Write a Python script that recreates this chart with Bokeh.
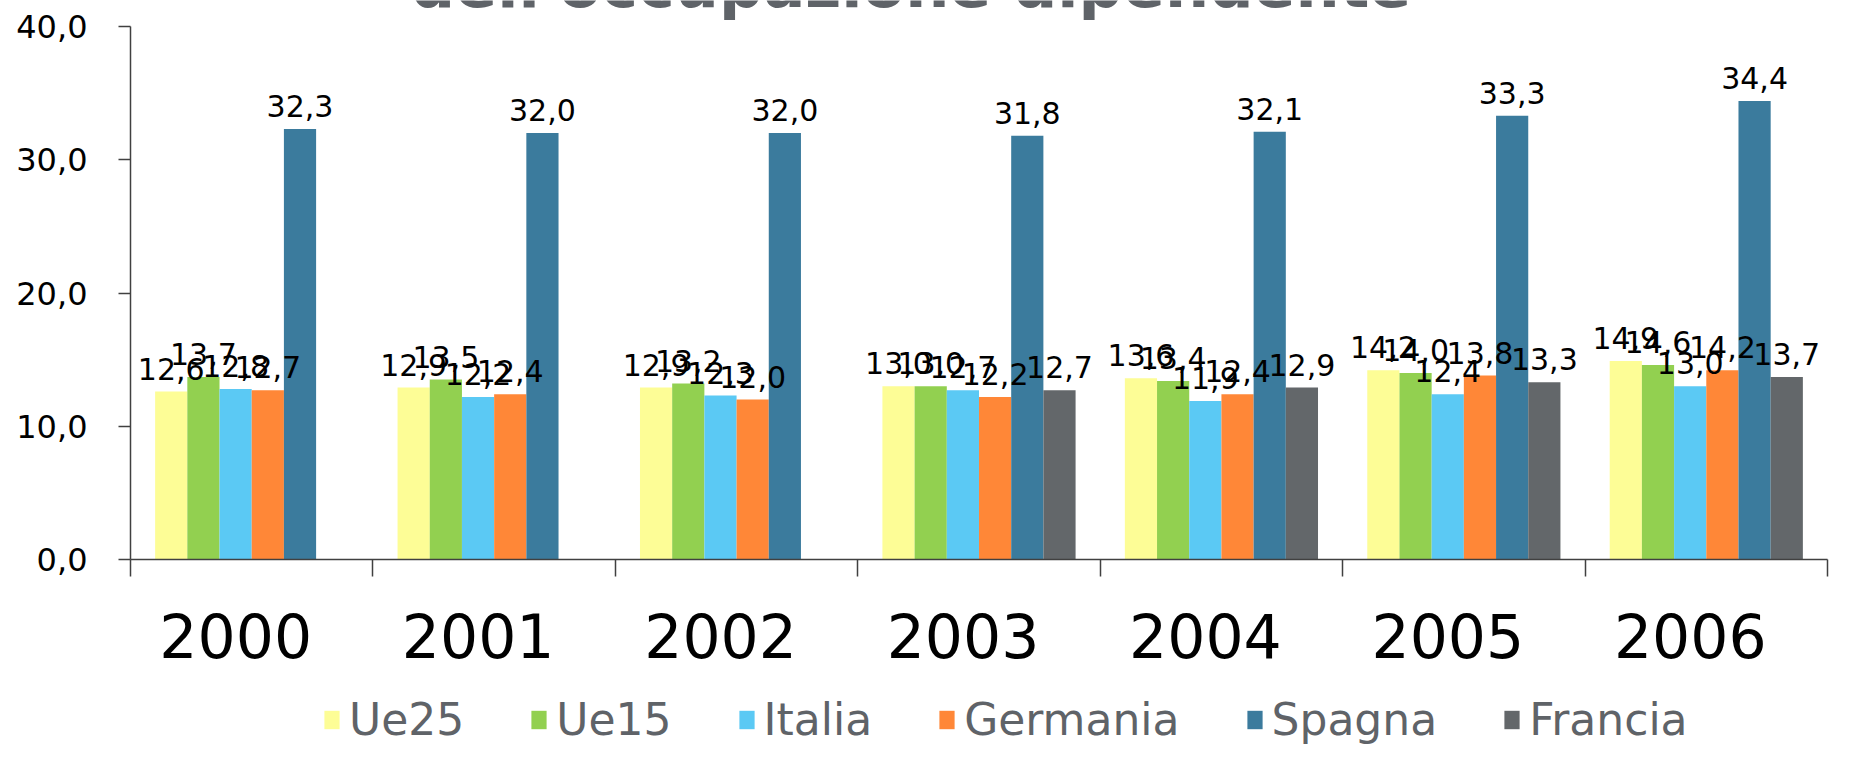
import numpy as np
from bokeh.plotting import figure
from bokeh.layouts import column
from bokeh.models import (ColumnDataSource, Range1d, FixedTicker, Legend, LegendItem)
from bokeh.transform import dodge
from bokeh.core.properties import value
from bokeh.embed import file_html
from bokeh.resources import INLINE

years = ["2000", "2001", "2002", "2003", "2004", "2005", "2006"]
series_names = ["Ue25", "Ue15", "Italia", "Germania", "Spagna", "Francia"]
ue25 = [12.6, 12.9, 12.9, 13.0, 13.6, 14.2, 14.9]
ue15 = [13.7, 13.5, 13.2, 13.0, 13.4, 14.0, 14.6]
italia = [12.8, 12.2, 12.3, 12.7, 11.9, 12.4, 13.0]
germania = [12.7, 12.4, 12.0, 12.2, 12.4, 13.8, 14.2]
spagna = [32.3, 32.0, 32.0, 31.8, 32.1, 33.3, 34.4]
francia = [np.nan, np.nan, np.nan, 12.7, 12.9, 13.3, 13.7]
y_ticks = [0, 10, 20, 30, 40]
y_tick_labels = ["0,0", "10,0", "20,0", "30,0", "40,0"]
title_text = "dell'occupazione dipendente"

colors = ["#FDFD96", "#92D050", "#5BC9F4", "#FF8737", "#3B7B9D", "#63676A"]
FONT = "DejaVu Sans"
AXIS_C = "#404040"

def fmt(v):
    return "" if np.isnan(v) else f"{v:.1f}".replace(".", ",")

series = [ue25, ue15, italia, germania, spagna, francia]
data = {"x": np.arange(len(years)) + 0.5}
for name, vals in zip(series_names, series):
    data[name] = vals
    data[name + "_lbl"] = [fmt(v) for v in vals]
src = ColumnDataSource(data)

Y_MAX = 40
y_top = Y_MAX + 26 / 13.325   # headroom above the 40 tick (title area)

p = figure(width=1836, height=690, output_backend="svg", toolbar_location=None,
           x_range=Range1d(0, len(years)), y_range=Range1d(0, y_top),
           min_border_left=130, min_border_right=9, min_border_top=0, min_border_bottom=131)
p.outline_line_color = None
p.xgrid.visible = False
p.ygrid.visible = False
p.background_fill_color = "white"
p.border_fill_color = "white"

bw = 0.1328
offsets = [(k - 2.5) * bw for k in range(len(series_names))]
for name, col, off in zip(series_names, colors, offsets):
    p.vbar(x=dodge("x", off, range=p.x_range), top=name, width=bw, bottom=0,
           source=src, fill_color=col, line_color=None)
for name, off in zip(series_names, offsets):
    p.text(x=dodge("x", off, range=p.x_range), y=name, text=name + "_lbl", source=src,
           text_align="center", text_baseline="bottom", y_offset=-12,
           text_font=value(FONT), text_font_size="30px", text_color="black")

# title (its upper part falls outside the picture, as in the reference)
p.text(x=[3.22], y=[Y_MAX + 17 / 13.325], text=[title_text], text_align="center",
       text_baseline="alphabetic", y_offset=-24, text_font=value(FONT),
       text_font_style="bold", text_font_size="62px", text_color="#5F6368")

# y axis
ya = p.yaxis[0]
ya.bounds = (0, Y_MAX)
ya.ticker = FixedTicker(ticks=y_ticks)
ya.major_label_overrides = {t: l for t, l in zip(y_ticks, y_tick_labels)}
ya.major_tick_out = 12
ya.major_tick_in = 0
ya.minor_tick_line_color = None
ya.major_label_standoff = 31
ya.major_label_text_font = FONT
ya.major_label_text_font_size = "32px"
ya.major_label_text_color = "black"
ya.axis_line_color = AXIS_C
ya.axis_line_width = 1.5
ya.major_tick_line_color = AXIS_C
ya.major_tick_line_width = 1.5

# x axis: year labels near the centres, ticks at the category boundaries
lab_pos = [float(i + 0.434) for i in range(len(years))]
xa = p.xaxis[0]
xa.ticker = FixedTicker(ticks=lab_pos, minor_ticks=list(range(len(years) + 1)))
xa.major_label_overrides = {t: y for t, y in zip(lab_pos, years)}
xa.major_tick_out = 0
xa.major_tick_in = 0
xa.minor_tick_out = 17
xa.minor_tick_in = 0
xa.minor_tick_line_color = AXIS_C
xa.minor_tick_line_width = 1.5
xa.major_label_standoff = 36
xa.major_label_text_font = FONT
xa.major_label_text_font_size = "60px"
xa.major_label_text_color = "black"
xa.axis_line_color = AXIS_C
xa.axis_line_width = 1.5

# legend strip (its bars lie outside its visible range; only the legend shows)
lf = figure(width=1836, height=57, output_backend="svg", toolbar_location=None,
            x_range=Range1d(0, len(years)), y_range=Range1d(1000, 1001),
            x_axis_location=None, y_axis_location=None, min_border=0)
lf.outline_line_color = None
lf.xgrid.visible = False
lf.ygrid.visible = False
items = []
for name, col in zip(series_names, colors):
    r = lf.vbar(x="x", top=name, width=bw, source=src, fill_color=col, line_color=None)
    items.append(LegendItem(label=name, renderers=[r]))
legend = Legend(items=items, orientation="horizontal", location=(192, 2),
                label_text_font=FONT, label_text_font_size="44px",
                label_text_color="#5F6368", glyph_width=19, glyph_height=23,
                label_standoff=8, spacing=65, border_line_color=None,
                background_fill_alpha=0, padding=0, margin=0)
lf.add_layout(legend, "center")

layout = column(p, lf, spacing=0)
open("out.html", "w").write(file_html(layout, INLINE))
